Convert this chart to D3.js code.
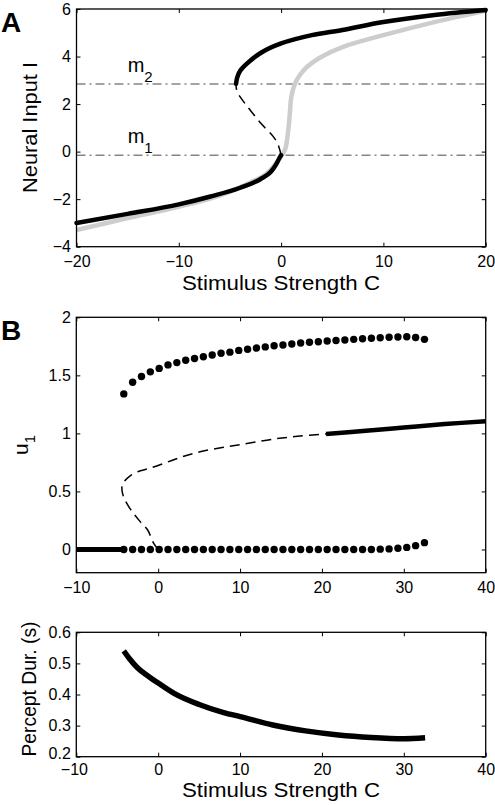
<!DOCTYPE html>
<html><head><meta charset="utf-8">
<script src="https://cdn.jsdelivr.net/npm/d3@7"></script>
<style>
body{margin:0;background:#fff}
text{font-family:"Liberation Sans",Arial,Helvetica,sans-serif;fill:#000}
</style>
</head><body>
<svg id="c" width="495" height="805"></svg>
<script>
// ---------- DATA ----------
// Panel A: neural input I vs stimulus strength C
const aTicksX = [-20, -10, 0, 10, 20];
const aTicksY = [-4, -2, 0, 2, 4, 6];
const aLowerBranch = [[-20,-3.0],[-15,-2.62],[-10,-2.22],[-7,-1.9],[-4,-1.52],[-2,-1.15],[-1,-0.85],[-0.5,-0.55],[-0.2,-0.3],[0,-0.15]];
const aUnstable = [[0,-0.15],[-0.3,0.3],[-0.8,0.65],[-2,1.2],[-3.3,1.9],[-4.0,2.3],[-4.35,2.6],[-4.4,2.85]];
const aUpperBranch = [[-4.4,2.85],[-4.3,3.1],[-4.0,3.4],[-3.4,3.68],[-2,4.15],[0,4.55],[3,4.9],[6,5.12],[10,5.45],[15,5.75],[20,5.96]];
const aGray = [[-20,-3.3],[-15,-2.8],[-10,-2.32],[-6,-1.85],[-3,-1.3],[-1.5,-0.95],[-0.5,-0.5],[0,-0.2],[0.4,0.1],[0.7,0.9],[0.85,1.6],[1.0,2.3],[1.3,2.8],[1.8,3.2],[2.5,3.55],[4,4.0],[6,4.4],[10,4.9],[15,5.45],[20,5.92]];
const aThresholds = [{name:"m", sub:"2", value:2.85}, {name:"m", sub:"1", value:-0.15}];

// Panel B: u1 vs C
const bTicksX = [-10, 0, 10, 20, 30, 40];
const bTicksY = [0, 0.5, 1, 1.5, 2];
const bDotC = [-4.2,-3.12,-2.04,-0.96,0.12,1.2,2.28,3.36,4.44,5.52,6.6,7.68,8.76,9.84,10.92,12,13.08,14.16,15.24,16.32,17.4,18.48,19.56,20.64,21.72,22.8,23.88,24.96,26.04,27.12,28.2,29.28,30.36,31.44,32.52];
const bDotMax = [1.34,1.44,1.49,1.53,1.56,1.59,1.61,1.63,1.645,1.66,1.675,1.69,1.70,1.715,1.725,1.735,1.745,1.755,1.762,1.77,1.778,1.785,1.79,1.796,1.80,1.805,1.81,1.815,1.82,1.824,1.828,1.83,1.832,1.826,1.81];
const bDotMin = [0,0,0,0,0,0,0,0,0,0,0,0,0,0,0,0,0,0,0,0,0,0,0,0,0,0,0,0,0,0.003,0.005,0.01,0.018,0.033,0.059];
const bLowStable = [[-10,0],[-4.2,0]];
const bUnstable = [[0,0],[-0.6,0.06],[-1.3,0.17],[-2.2,0.24],[-2.9,0.3],[-3.6,0.37],[-4.15,0.44],[-4.4,0.5],[-4.4,0.55],[-4.1,0.59],[-3.5,0.63],[-2.5,0.67],[-1,0.7],[1,0.75],[3,0.8],[5,0.84],[8,0.88],[11,0.915],[14,0.95],[17,0.975],[20.5,0.995]];
const bHighStable = [[20.5,0.995],[25,1.02],[30,1.05],[35,1.08],[40,1.105]];

// Panel C: percept duration vs C
const cTicksX = [-10, 0, 10, 20, 30, 40];
const cTicksY = [0.2, 0.3, 0.4, 0.5, 0.6];
const cDuration = [[-4.2,0.54],[-3.5,0.515],[-2.5,0.485],[-1,0.455],[0,0.437],[2,0.403],[5,0.368],[8,0.342],[10,0.329],[14,0.302],[18,0.283],[22,0.27],[26,0.262],[30,0.258],[32.6,0.261]];

// ---------- DRAW ----------
const svg = d3.select("#c");
svg.append("rect").attr("width",495).attr("height",805).attr("fill","#fff");

const FS = 16;
function frame(x, y, xt, yt, yfmt, xfmt, xpad) {
  const g = svg.append("g");
  const [x0,x1] = x.range(), [y0,y1] = y.range();
  g.append("g").attr("class","xb").attr("transform",`translate(0,${y0})`)
    .call(d3.axisBottom(x).tickValues(xt).tickSize(-4).tickPadding(xpad||9).tickFormat(xfmt||d3.format("")));
  g.append("g").attr("class","yl").attr("transform",`translate(${x0},0)`)
    .call(d3.axisLeft(y).tickValues(yt).tickSize(-4).tickPadding(5.5).tickFormat(yfmt||d3.format("")));
  g.append("g").attr("transform",`translate(0,${y1})`)
    .call(d3.axisTop(x).tickValues(xt).tickSize(-4).tickFormat(""));
  g.append("g").attr("transform",`translate(${x1},0)`)
    .call(d3.axisRight(y).tickValues(yt).tickSize(-4).tickFormat(""));
  g.selectAll(".domain").remove();
  g.selectAll(".tick line").attr("stroke","#000").attr("stroke-width",1);
  g.selectAll("g").attr("font-size",null).attr("font-family",null);
  g.selectAll(".tick text").style("font-size",FS+"px").style("font-family",'"Liberation Sans",Arial,sans-serif').attr("fill","#000");
  g.append("rect").attr("x",x0).attr("y",y1).attr("width",x1-x0).attr("height",y0-y1)
    .attr("fill","none").attr("stroke","#000").attr("stroke-width",1.3);
  return g;
}
function xTitle(text, cx, by) {
  svg.append("text").attr("x",cx).attr("y",by).attr("text-anchor","middle")
    .style("font-size","21px").attr("textLength",198).attr("lengthAdjust","spacingAndGlyphs").text(text);
}
function yTitle(text, cx, cy, len) {
  const t = svg.append("text").attr("transform",`translate(${cx},${cy}) rotate(-90)`)
    .attr("text-anchor","middle").style("font-size","21px");
  if (len) t.attr("textLength",len).attr("lengthAdjust","spacingAndGlyphs");
  t.text(text);
  return t;
}
const line = (x,y) => d3.line().x(d=>x(d[0])).y(d=>y(d[1])).curve(d3.curveCatmullRom.alpha(0.5));
const mline = (x,y) => d3.line().x(d=>x(d[0])).y(d=>y(d[1])).curve(d3.curveMonotoneX);

// ----- Panel A -----
const xA = d3.scaleLinear().domain([-20,20]).range([76.5,485.7]);
const yA = d3.scaleLinear().domain([-4,6]).range([246.7,9]);
const gA = svg.append("g");
aThresholds.forEach(t => {
  gA.append("line").attr("x1",xA(-20)).attr("x2",xA(20)).attr("y1",yA(t.value)).attr("y2",yA(t.value))
    .attr("stroke","#858585").attr("stroke-width",1.5).attr("stroke-dasharray","9,4,2,4");
  const lab = gA.append("text").attr("x",xA(-15)).attr("y",yA(t.value)-12).style("font-size","20px");
  lab.append("tspan").text(t.name);
  lab.append("tspan").attr("dy",10).style("font-size","15px").text(t.sub);
});
gA.append("path").datum(aGray).attr("d",line(xA,yA)).attr("fill","none").attr("stroke","#cdcdcd").attr("stroke-width",4.5);
gA.append("path").datum(aLowerBranch).attr("d",mline(xA,yA)).attr("fill","none").attr("stroke","#000").attr("stroke-width",4.5).attr("stroke-linecap","round");
gA.append("path").datum(aUpperBranch).attr("d",line(xA,yA)).attr("fill","none").attr("stroke","#000").attr("stroke-width",4.5).attr("stroke-linecap","round");
gA.append("path").datum(aUnstable).attr("d",line(xA,yA)).attr("fill","none").attr("stroke","#000").attr("stroke-width",1.5).attr("stroke-dasharray","10,6");
frame(xA, yA, aTicksX, aTicksY);
xTitle("Stimulus Strength C", 281, 290);
yTitle("Neural Input I", 37, 127.5, 131);
svg.append("text").attr("x",1).attr("y",32).style("font-size","28px").attr("font-weight","bold").text("A");

// ----- Panel B -----
const xB = d3.scaleLinear().domain([-10,40]).range([76.3,485.7]);
const yB = d3.scaleLinear().domain([-0.2,2]).range([572.7,317.3]);
const gB = svg.append("g");
gB.append("path").datum(bUnstable).attr("d",line(xB,yB)).attr("fill","none").attr("stroke","#000").attr("stroke-width",1.5).attr("stroke-dasharray","10,6");
gB.append("path").datum(bLowStable).attr("d",line(xB,yB)).attr("fill","none").attr("stroke","#000").attr("stroke-width",5);
gB.append("path").datum(bHighStable).attr("d",line(xB,yB)).attr("fill","none").attr("stroke","#000").attr("stroke-width",4.5);
gB.selectAll("circle.mx").data(bDotC).join("circle").attr("class","mx")
  .attr("cx",d=>xB(d)).attr("cy",(d,i)=>yB(bDotMax[i])).attr("r",3.7).attr("fill","#000");
gB.selectAll("circle.mn").data(bDotC).join("circle").attr("class","mn")
  .attr("cx",d=>xB(d)).attr("cy",(d,i)=>yB(bDotMin[i])).attr("r",3.7).attr("fill","#000");
frame(xB, yB, bTicksX, bTicksY, d3.format("~g"));
const u1 = yTitle("", 28, 445);
u1.append("tspan").text("u");
u1.append("tspan").attr("dy",7).style("font-size","15px").text("1");
svg.append("text").attr("x",1).attr("y",340).style("font-size","28px").attr("font-weight","bold").text("B");

// ----- Panel C -----
const xC = d3.scaleLinear().domain([-10,40]).range([76.3,485.7]);
const yC = d3.scaleLinear().domain([0.2,0.6]).range([756.7,632.3]);
svg.append("path").datum(cDuration).attr("d",mline(xC,yC)).attr("fill","none").attr("stroke","#000").attr("stroke-width",5.5);
const gC = frame(xC, yC, cTicksX, cTicksY, d3.format(".1f"), null, 7);
// nudge the lowest y label up slightly so it clears the first x label
gC.selectAll(".yl .tick text").filter(d => d === 0.2).attr("dy","0.1em");
gC.selectAll(".xb .tick text").filter(d => d === -10).attr("dx","-0.15em");
xTitle("Stimulus Strength C", 281, 796.7);
yTitle("Percept Dur. (s)", 36, 689, 135);
</script>
</body></html>
